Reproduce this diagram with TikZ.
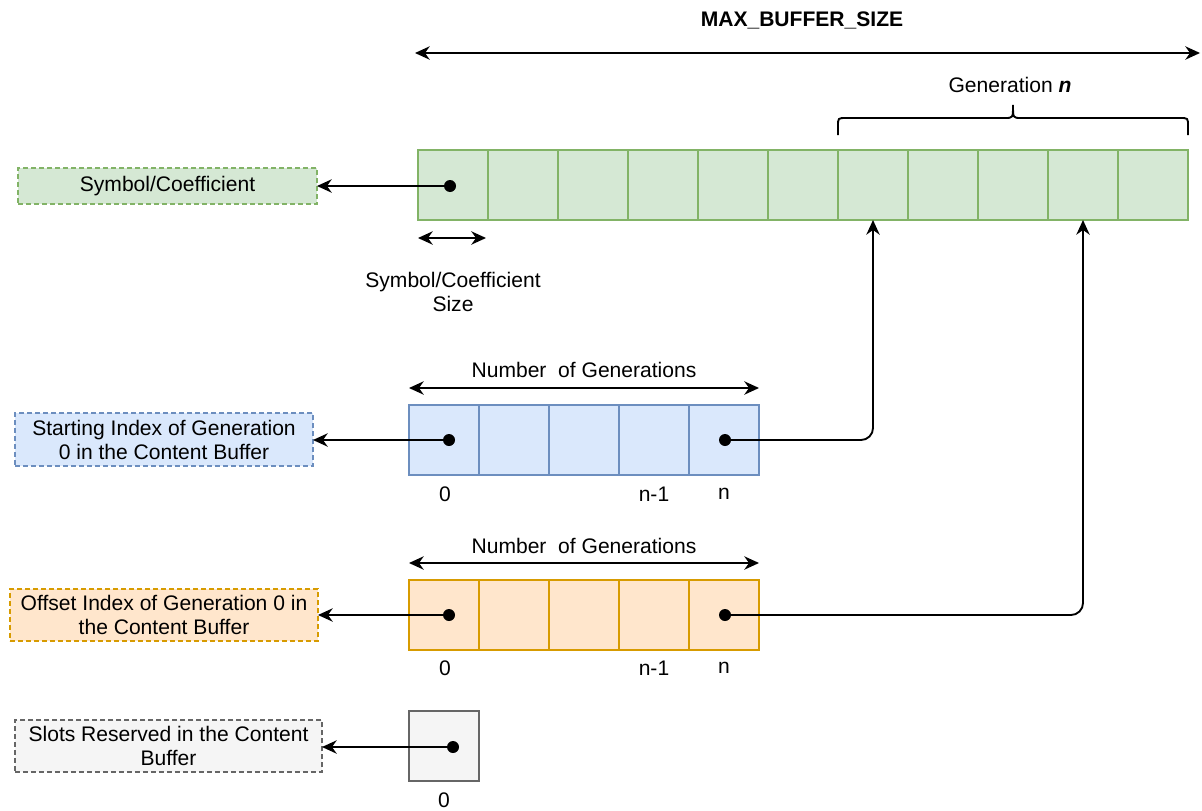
\documentclass[tikz,border=0pt]{standalone}
\usepackage{fontspec}
\setmainfont{Liberation Sans}
\usetikzlibrary{arrows.meta}
\definecolor{gfill}{HTML}{D5E8D4}
\definecolor{gline}{HTML}{82B366}
\definecolor{bfill}{HTML}{DAE8FC}
\definecolor{bline}{HTML}{6C8EBF}
\definecolor{ofill}{HTML}{FFE6CC}
\definecolor{oline}{HTML}{D79B00}
\definecolor{kfill}{HTML}{F5F5F5}
\definecolor{kline}{HTML}{666666}
\tikzset{
  cellbox/.style={draw, line width=1pt, minimum width=52.5pt, minimum height=52.5pt, inner sep=0pt, outer sep=0pt},
  gcell/.style={cellbox, draw=gline, fill=gfill},
  bcell/.style={cellbox, draw=bline, fill=bfill},
  ocell/.style={cellbox, draw=oline, fill=ofill},
  kcell/.style={cellbox, draw=kline, fill=kfill},
  labbox/.style={draw, line width=1pt, dash pattern=on 3.5pt off 2.5pt, align=center, inner sep=0pt, outer sep=0pt},
  dotn/.style={circle, fill=black, minimum size=9pt, inner sep=0pt},
  tip/.tip={Stealth[length=11pt,width=10pt,inset=3.5pt]},
  arr/.style={line width=1.4pt, -tip},
  dimarr/.style={line width=1.4pt, tip-tip},
  txt/.style={inner sep=0pt, align=center}
}
\begin{document}
\begin{tikzpicture}[x=0.75pt,y=-0.75pt, font=\fontsize{15.8}{18}\selectfont]
\useasboundingbox (0,0) rectangle (1202,810);

% title and top dimension
\node[txt, font=\fontsize{15.8}{18}\selectfont\bfseries] (title) at (802,20) {MAX\_BUFFER\_SIZE};
\coordinate (t1) at (415,53);
\coordinate (t2) at (1200,53);
\draw[dimarr] (t1) -- (t2);

% content buffer
\foreach \i in {0,...,10} \node[gcell] (g\i) at ({453+70*\i},185) {};

% brace
\draw[line width=1.4pt] (838,135) -- (838,126) .. controls (838,118) .. (846,118) -- (1005,118) .. controls (1013,118) .. (1013,105) .. controls (1013,118) .. (1021,118) -- (1180,118) .. controls (1188,118) .. (1188,126) -- (1188,135);
\node[txt] (gen) at (1010,85) {Generation \textbf{\textit{n}}};

% symbol label
\node[labbox, draw=gline, fill=gfill, minimum width=224.25pt, minimum height=27pt] (lab1) at (167.5,186) {Symbol/Coefficient};
\node[dotn] (d1) at (450,186) {};
\draw[arr] (d1.center) -- (d1.center -| lab1.east);

% symbol size
\coordinate (s1) at (418,238);
\coordinate (s2) at (486,238);
\draw[dimarr] (s1) -- (s2);
\node[txt] (ssize) at (453,292) {Symbol/Coefficient\\Size};

% starting index buffer
\node[txt] (ng1) at (584,370) {Number\ \ of Generations};
\coordinate (n1a) at (409,388);
\coordinate (n1b) at (759,388);
\draw[dimarr] (n1a) -- (n1b);
\foreach \i in {0,...,4} \node[bcell] (b\i) at ({444+70*\i},440) {};
\node[labbox, draw=bline, fill=bfill, minimum width=223.5pt, minimum height=39.75pt] (lab2) at (164,439.5) {Starting Index of Generation\\0 in the Content Buffer};
\node[dotn] (d2) at (449,440) {};
\node[dotn] (d3) at (725,440) {};
\draw[arr] (d2.center) -- (d2.center -| lab2.east);
\draw[arr, rounded corners=9pt] (d3.center) -| (g6.south);
\node[txt] (i1a) at (445,494) {0};
\node[txt] (i1b) at (654,494) {n-1};
\node[txt] (i1c) at (724,494) {n};

% offset index buffer
\node[txt] (ng2) at (584,546) {Number\ \ of Generations};
\coordinate (n2a) at (409,563);
\coordinate (n2b) at (759,563);
\draw[dimarr] (n2a) -- (n2b);
\foreach \i in {0,...,4} \node[ocell] (o\i) at ({444+70*\i},615) {};
\node[labbox, draw=oline, fill=ofill, minimum width=231pt, minimum height=39pt] (lab3) at (164,615) {Offset Index of Generation 0 in\\the Content Buffer};
\node[dotn] (d4) at (449,615) {};
\node[dotn] (d5) at (725,615) {};
\draw[arr] (d4.center) -- (d4.center -| lab3.east);
\draw[arr, rounded corners=9pt] (d5.center) -| (g9.south);
\node[txt] (i2a) at (445,668) {0};
\node[txt] (i2b) at (654,668) {n-1};
\node[txt] (i2c) at (724,668) {n};

% reserved slots
\node[kcell] (k0) at (444,746) {};
\node[labbox, draw=kline, fill=kfill, minimum width=230.25pt, minimum height=39pt] (lab4) at (168.5,746) {Slots Reserved in the Content\\Buffer};
\node[dotn] (d6) at (453,747) {};
\draw[arr] (d6.center) -- (d6.center -| lab4.east);
\node[txt] (i3a) at (444,800) {0};
\end{tikzpicture}
\end{document}
